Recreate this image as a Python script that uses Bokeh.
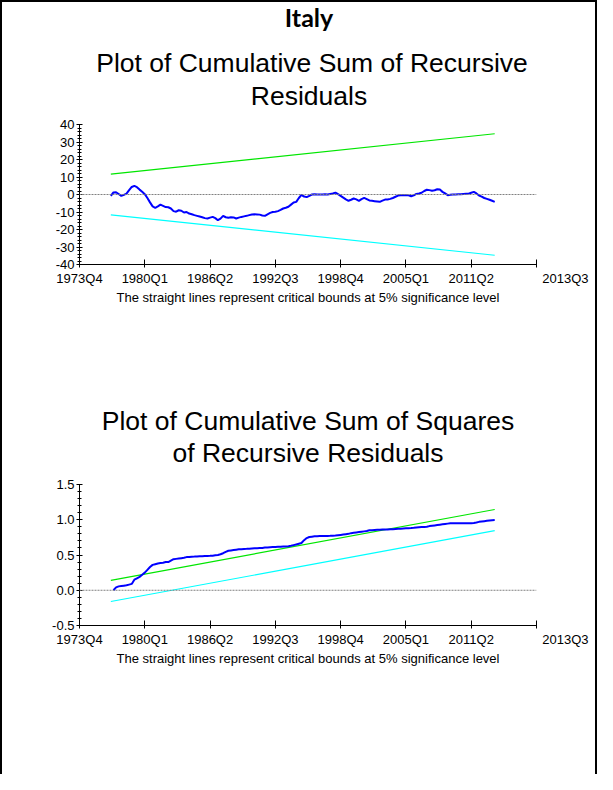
from bokeh.plotting import figure
from bokeh.models import Span, FixedTicker, Range1d
from bokeh.layouts import column
from bokeh.core.properties import value
from bokeh.embed import file_html
from bokeh.resources import INLINE

# ---------------- data ----------------
country = "Italy"
title_cusum = ["Plot of Cumulative Sum of Recursive", "Residuals"]
title_cusumsq = ["Plot of Cumulative Sum of Squares", "of Recursive Residuals"]
footnote = "The straight lines represent critical bounds at 5% significance level"

# quarter index counted from 1973Q4 = 0
tick_quarters = [0, 25, 50, 75, 100, 125, 150, 175]
tick_labels = ["1973Q4", "1980Q1", "1986Q2", "1992Q3", "1998Q4", "2005Q1", "2011Q2", "2013Q3"]

cusum_first_q = 12
cusum = [
    -0.8, 1.2, 1.3, 0.3, -0.8, -0.2, 0.5, 2.5, 4.3, 4.9,
    4.2, 2.8, 1.6, 0.2, -2.0, -4.5, -6.8, -7.6, -6.8, -5.8,
    -6.5, -7.2, -7.3, -8.0, -9.5, -9.8, -9.0, -9.3, -10.3, -10.0,
    -10.9, -11.3, -11.8, -12.2, -12.6, -13.0, -13.5, -13.7, -13.2, -12.8,
    -13.5, -14.7, -13.8, -12.2, -13.0, -13.3, -13.0, -13.1, -13.7, -13.2,
    -12.8, -12.5, -12.2, -11.8, -11.4, -11.3, -11.4, -11.5, -12.0, -12.2,
    -11.3, -10.5, -10.0, -9.9, -9.5, -8.8, -8.0, -7.6, -7.0, -5.8,
    -4.6, -4.2, -2.0, -0.2, -1.2, -1.5, -0.8, 0.0, 0.2, 0.0,
    0.0, 0.0, 0.1, 0.0, 0.3, 0.6, 1.1, 0.2, -0.8, -1.8,
    -2.8, -3.6, -3.0, -2.3, -2.8, -3.6, -2.6, -1.9, -2.6, -3.4,
    -3.6, -3.8, -4.0, -4.2, -3.5, -2.9, -2.8, -2.5, -2.0, -1.3,
    -0.6, -0.4, -0.4, -0.4, -0.5, -1.0, -0.5, 0.3, 0.6, 1.0,
    2.0, 2.7, 2.5, 2.1, 2.4, 3.0, 2.8, 1.5, 0.6, -0.4,
    -0.2, 0.0, 0.0, 0.1, 0.2, 0.3, 0.4, 0.5, 1.0, 1.5,
    0.6, -0.6, -1.2, -2.0, -2.5, -3.0, -3.6, -4.2,
]
cusum_bound_q = [12, 159]
cusum_upper = [11.6, 34.7]
cusum_lower = [-11.6, -34.7]

cusumsq_first_q = 13
cusumsq = [
    0.00, 0.04, 0.055, 0.06, 0.065, 0.07, 0.08, 0.09, 0.15, 0.17,
    0.19, 0.22, 0.25, 0.29, 0.33, 0.36, 0.37, 0.38, 0.385, 0.39,
    0.40, 0.40, 0.42, 0.44, 0.445, 0.45, 0.455, 0.46, 0.47, 0.47,
    0.475, 0.477, 0.48, 0.482, 0.484, 0.486, 0.487, 0.488, 0.49, 0.495,
    0.50, 0.51, 0.525, 0.545, 0.56, 0.565, 0.57, 0.575, 0.58, 0.582,
    0.585, 0.587, 0.59, 0.592, 0.594, 0.596, 0.598, 0.60, 0.605, 0.607,
    0.61, 0.612, 0.614, 0.616, 0.618, 0.62, 0.622, 0.625, 0.63, 0.64,
    0.65, 0.66, 0.67, 0.71, 0.74, 0.755, 0.76, 0.765, 0.767, 0.768,
    0.769, 0.77, 0.771, 0.772, 0.774, 0.775, 0.78, 0.785, 0.79, 0.795,
    0.80, 0.81, 0.815, 0.82, 0.825, 0.83, 0.835, 0.84, 0.85, 0.852,
    0.855, 0.858, 0.859, 0.86, 0.861, 0.862, 0.864, 0.865, 0.87, 0.872,
    0.874, 0.876, 0.878, 0.88, 0.882, 0.885, 0.89, 0.893, 0.896, 0.898,
    0.90, 0.91, 0.915, 0.92, 0.925, 0.93, 0.935, 0.94, 0.945, 0.95,
    0.95, 0.95, 0.95, 0.95, 0.95, 0.95, 0.95, 0.95, 0.955, 0.962,
    0.97, 0.975, 0.98, 0.985, 0.99, 0.993, 0.995,
]
cusumsq_bound_q = [12, 159]
cusumsq_upper = [0.14, 1.145]
cusumsq_lower = [-0.16, 0.845]

cusum_yticks = [-40, -30, -20, -10, 0, 10, 20, 30, 40]
cusum_ylabels = ["-40", "-30", "-20", "-10", "0", "10", "20", "30", "40"]
cusumsq_yticks = [-0.5, 0.0, 0.5, 1.0, 1.5]
cusumsq_ylabels = ["-0.5", "0.0", "0.5", "1.0", "1.5"]

# ---------------- layout / styling ----------------
FONT = "Liberation Sans"
W = 593                 # inner width (inside the 2px frame border)
LEFT, FRAME_W = 77, 457
RIGHT = W - LEFT - FRAME_W
TOP, BOTTOM = 10, 24
TICK_OUT, STANDOFF = 3, 3
X_RANGE = (tick_quarters[0], tick_quarters[-1])
XMID = (X_RANGE[0] + X_RANGE[1]) / 2
PX = (X_RANGE[1] - X_RANGE[0]) / FRAME_W   # quarters per pixel
BASE_SHIFT = 0.4                            # renderer baseline correction (em)
# the last tick label is printed to the right of its tick
LAST_LABEL = "\u00a0" * 16 + tick_labels[-1]


def style_fig(p):
    p.outline_line_color = None
    p.grid.visible = False
    p.background_fill_color = "white"
    p.border_fill_color = "white"


def text_fig(h, items):
    # rows of text; y = baseline in pixels from the top of this strip
    p = figure(frame_width=FRAME_W, frame_height=h,
               min_border_left=LEFT, min_border_right=RIGHT,
               min_border_top=0, min_border_bottom=0,
               x_range=Range1d(*X_RANGE), y_range=Range1d(h, 0),
               x_axis_location=None, y_axis_location=None,
               output_backend="svg", toolbar_location=None, tools="")
    style_fig(p)
    for (y, dx, txt, font, size, style) in items:
        p.text(x=[XMID + dx * PX], y=[y - BASE_SHIFT * size], text=[txt],
               text_align="center", text_baseline="alphabetic",
               text_font=value(font), text_font_size=value(f"{size}px"),
               text_font_style=style, text_color="black")
    return p


def chart_fig(frame_h, yr, yticks, ylabels, yminor):
    p = figure(frame_width=FRAME_W, frame_height=frame_h,
               min_border_left=LEFT, min_border_right=RIGHT,
               min_border_top=TOP, min_border_bottom=BOTTOM,
               x_range=Range1d(*X_RANGE), y_range=Range1d(yr[0], yr[1]),
               output_backend="svg", toolbar_location=None, tools="")
    style_fig(p)

    xa = p.xaxis[0]
    xa.ticker = FixedTicker(ticks=tick_quarters, minor_ticks=[])
    ov = {q: lab for q, lab in zip(tick_quarters, tick_labels)}
    ov[tick_quarters[-1]] = LAST_LABEL
    xa.major_label_overrides = ov
    xa.major_tick_in = 5
    xa.major_tick_out = TICK_OUT
    xa.minor_tick_in = 0
    xa.minor_tick_out = 0
    xa.major_label_standoff = STANDOFF
    ya = p.yaxis[0]
    ya.ticker = FixedTicker(ticks=yticks, minor_ticks=yminor)
    ya.major_label_overrides = {t: lab for t, lab in zip(yticks, ylabels)}
    ya.major_tick_in = 3
    ya.major_tick_out = 3
    ya.minor_tick_in = 2
    ya.minor_tick_out = 2
    ya.major_label_standoff = 2
    for ax in (xa, ya):
        ax.axis_line_color = "black"
        ax.major_tick_line_color = "black"
        ax.minor_tick_line_color = "black"
        ax.major_label_text_font = FONT
        ax.major_label_text_font_size = "13px"
        ax.major_label_text_color = "black"

    p.add_layout(Span(location=0, dimension="width", line_color="#808080",
                      line_dash="2 1", line_width=1))
    return p


# ---- top: CUSUM ----
h1 = text_fig(112, [
    (24.7, 1, country, "Lato", 25, "bold"),
    (71.3, 4, title_cusum[0], FONT, 26.5, "normal"),
    (104, 1, title_cusum[1], FONT, 26.5, "normal"),
])
p1 = chart_fig(140, (-40, 40), cusum_yticks, cusum_ylabels, list(range(-40, 41, 2)))
p1.line(cusum_bound_q, cusum_upper, line_color="#00E600", line_width=1.2)
p1.line(cusum_bound_q, cusum_lower, line_color="#00FFFF", line_width=1.2)
xq = list(range(cusum_first_q, cusum_first_q + len(cusum)))
p1.line(xq, cusum, line_color="#0000FF", line_width=2)
f1 = text_fig(82, [(14, 0, footnote, FONT, 13, "normal")])

# ---- bottom: CUSUMSQ ----
h2 = text_fig(104, [
    (61, 0, title_cusumsq[0], FONT, 26.5, "normal"),
    (93.3, 0, title_cusumsq[1], FONT, 26.5, "normal"),
])
p2 = chart_fig(141, (-0.5, 1.5), cusumsq_yticks, cusumsq_ylabels,
               [i / 10 for i in range(-5, 16)])
p2.line(cusumsq_bound_q, cusumsq_upper, line_color="#00E600", line_width=1.2)
p2.line(cusumsq_bound_q, cusumsq_lower, line_color="#00FFFF", line_width=1.2)
xq2 = list(range(cusumsq_first_q, cusumsq_first_q + len(cusumsq)))
p2.line(xq2, cusumsq, line_color="#0000FF", line_width=2)
f2 = text_fig(125, [(14, 0, footnote, FONT, 13, "normal")])

page = column(h1, p1, f1, h2, p2, f2, spacing=0,
              styles={"border-top": "2px solid black",
                      "border-left": "2px solid black",
                      "border-right": "2px solid black"})

open("out.html", "w").write(file_html(page, INLINE))
